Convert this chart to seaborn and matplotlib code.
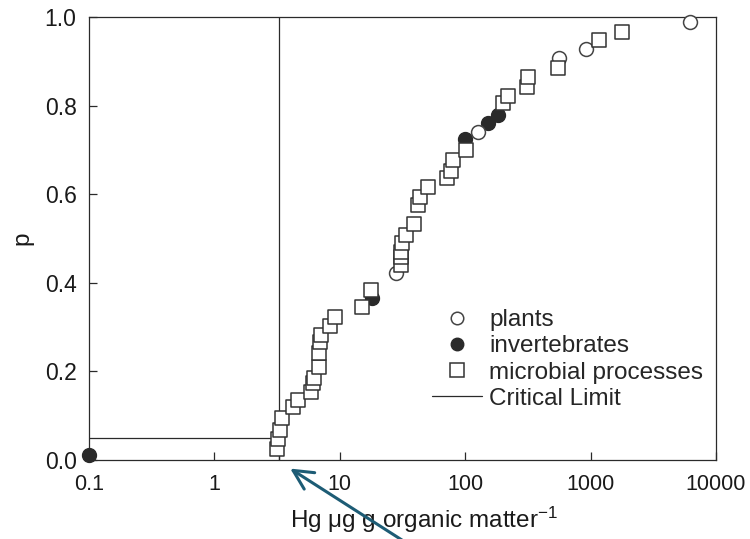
import numpy as np
import pandas as pd
import matplotlib
matplotlib.use("Agg")
import matplotlib.pyplot as plt
from matplotlib.lines import Line2D
import seaborn as sns

# -----------------------------
# Data: Hg (ug g organic matter^-1) vs cumulative p
# -----------------------------
plants_x = [27.8, 126, 557, 916, 6200]
plants_p = [0.422, 0.740, 0.907, 0.928, 0.989]

invert_x = [0.1, 18.2, 100, 151, 182]
invert_p = [0.012, 0.366, 0.725, 0.761, 0.779]

microbial_x = [3.18, 3.24, 3.36, 3.48, 4.27, 4.67, 5.84, 6.06, 6.18, 6.76,
               6.76, 7.0, 7.1, 8.3, 9.2, 15.1, 17.8, 30.5, 30.8, 30.5,
               31.5, 34.0, 38.8, 41.7, 43.3, 50.2, 71.0, 76.4, 79.3, 100.7,
               199, 218, 309, 315, 547, 1164, 1775]
microbial_p = [0.025, 0.047, 0.068, 0.095, 0.120, 0.135, 0.153, 0.174, 0.185, 0.210,
               0.241, 0.266, 0.282, 0.302, 0.323, 0.345, 0.384, 0.440, 0.458, 0.470,
               0.490, 0.508, 0.533, 0.576, 0.594, 0.616, 0.637, 0.652, 0.677, 0.700,
               0.806, 0.822, 0.842, 0.865, 0.885, 0.948, 0.966]

# critical limit: p = 0.05 up to 3.3, then vertical at 3.3
crit_x = [0.1, 3.3, 3.3, 3.3]
crit_p = [0.05, 0.05, 0.0, 1.0]

x_ticks = [0.1, 1, 10, 100, 1000, 10000]
x_tick_labels = ["0.1", "1", "10", "100", "1000", "10000"]
y_ticks = [0.0, 0.2, 0.4, 0.6, 0.8, 1.0]
y_tick_labels = ["0.0", "0.2", "0.4", "0.6", "0.8", "1.0"]

# -----------------------------
# Style
# -----------------------------
sns.set_style("ticks")
plt.rcParams['font.family'] = ['Liberation Sans', 'DejaVu Sans']
plt.rcParams['mathtext.fontset'] = 'custom'
plt.rcParams['mathtext.rm'] = 'Liberation Sans'
plt.rcParams['mathtext.default'] = 'regular'

ink = '#2a2a2a'

fig, ax = plt.subplots(figsize=(7.5, 5.39), dpi=100)
fig.subplots_adjust(left=0.1187, right=0.9547, bottom=0.1466, top=0.9685)

# -----------------------------
# Marks
# -----------------------------
sns.lineplot(x=crit_x, y=crit_p, sort=False, estimator=None, color=ink,
             linewidth=0.9, ax=ax, zorder=2)

sns.scatterplot(x=invert_x, y=invert_p, marker='o', s=100, color=ink,
                edgecolor=ink, linewidth=1.0, ax=ax, zorder=3, clip_on=False)
sns.scatterplot(x=plants_x, y=plants_p, marker='o', s=100, facecolor='white',
                edgecolor='#444444', linewidth=1.1, ax=ax, zorder=4, clip_on=False)
sns.scatterplot(x=microbial_x, y=microbial_p, marker='s', s=110, facecolor='white',
                edgecolor='#333333', linewidth=1.1, ax=ax, zorder=5, clip_on=False)

# -----------------------------
# Axes
# -----------------------------
ax.set_xscale('log')
ax.set_xlim(0.1, 10000)
ax.set_ylim(0, 1)
ax.set_xticks(x_ticks)
ax.set_xticklabels(x_tick_labels)
ax.minorticks_off()
ax.set_yticks(y_ticks)
ax.set_yticklabels(y_tick_labels)
ax.tick_params(direction='in', length=6, width=0.9, color=ink, labelcolor='#1a1a1a')
ax.tick_params(axis='x', pad=10, labelsize=15.5)
ax.tick_params(axis='y', pad=9, labelsize=16.5)
for sp in ax.spines.values():
    sp.set_visible(True)
    sp.set_color(ink)
    sp.set_linewidth(0.9)

ax.set_xlabel("Hg μg g organic matter$^{-1}$", fontsize=17.5, color='#1a1a1a', labelpad=7)
ax.xaxis.label.set_x(0.534)
ax.set_ylabel("p", fontsize=17.5, color='#1a1a1a', labelpad=8)

# -----------------------------
# Legend
# -----------------------------
handles = [
    Line2D([], [], marker='o', linestyle='none', markersize=9, markerfacecolor='white',
           markeredgecolor='#444444', markeredgewidth=1.1),
    Line2D([], [], marker='o', linestyle='none', markersize=9, markerfacecolor=ink,
           markeredgecolor=ink),
    Line2D([], [], marker='s', linestyle='none', markersize=10, markerfacecolor='white',
           markeredgecolor='#333333', markeredgewidth=1.1),
    Line2D([], [], color=ink, linewidth=0.9),
]
labels = ["plants", "invertebrates", "microbial processes", "Critical Limit"]
ax.legend(handles, labels, loc='upper left', bbox_to_anchor=(0.532, 0.362),
          frameon=False, fontsize=17.5, handlelength=2.05, handletextpad=0.3,
          labelspacing=0.17, borderaxespad=0)

# -----------------------------
# Arrow pointing at the critical limit
# -----------------------------
ax.annotate('', xy=(3.85, -0.016), xycoords='data',
            xytext=(0.545, -0.01), textcoords='figure fraction',
            arrowprops=dict(arrowstyle='->,head_length=0.7,head_width=0.35',
                            color='#1d5c75', lw=2.2, mutation_scale=20),
            annotation_clip=False)

fig.savefig("out.png", dpi=100)
plt.close(fig)
